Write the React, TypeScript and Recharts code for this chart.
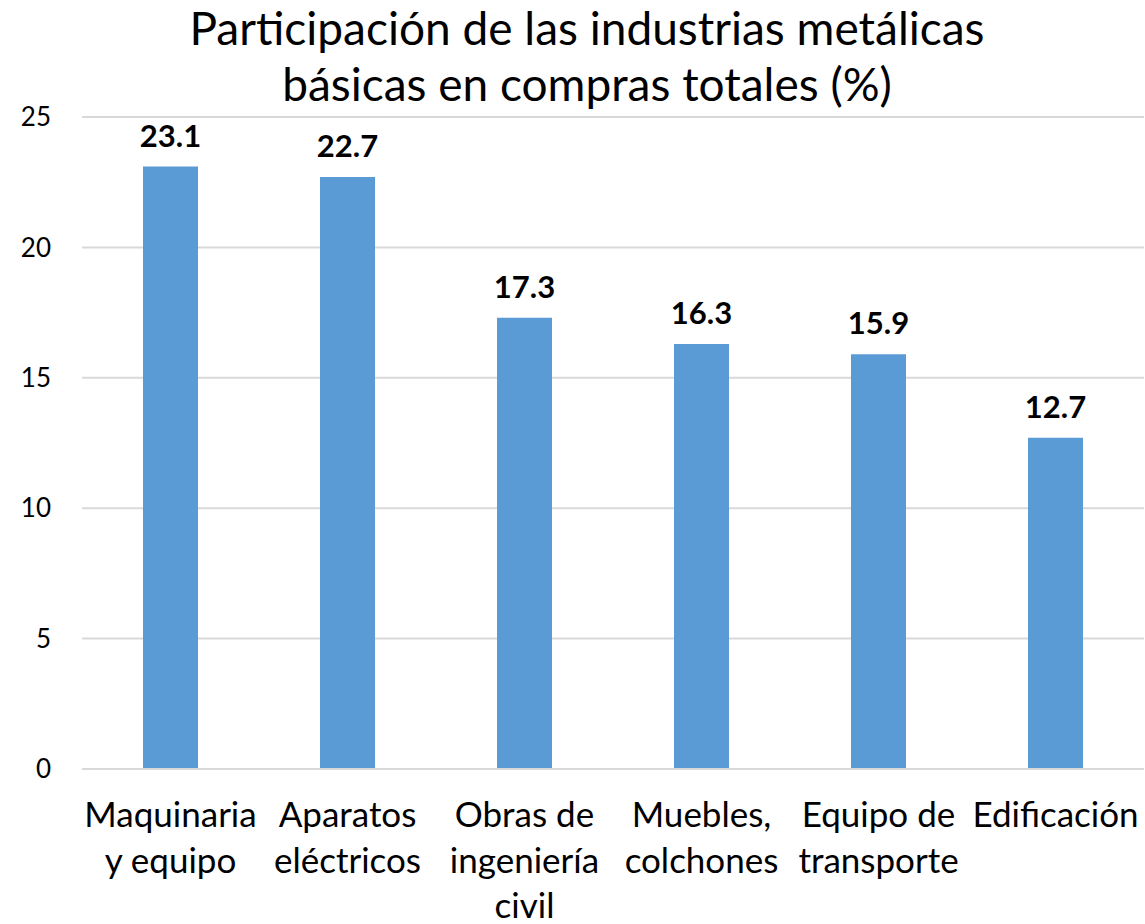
import { BarChart, Bar, XAxis, YAxis, CartesianGrid, LabelList } from "recharts";

const categories = [
  "Maquinaria\ny equipo",
  "Aparatos\neléctricos",
  "Obras de\ningeniería\ncivil",
  "Muebles,\ncolchones",
  "Equipo de\ntransporte",
  "Edificación",
];
const shares = [23.1, 22.7, 17.3, 16.3, 15.9, 12.7];
const yTicks = [0, 5, 10, 15, 20, 25];
const titleLines = [
  "Participación de las industrias metálicas",
  "básicas en compras totales (%)",
];

const data = categories.map((name, i) => ({ name, value: shares[i] }));

const FONT = "Lato, 'Open Sans', sans-serif";

const CategoryTick = (props: any) => {
  const { x, y, payload } = props;
  const lines = String(payload.value).split("\n");
  return (
    <g transform={`translate(${x},${y})`}>
      {lines.map((line, i) => (
        <text
          key={i}
          x={0}
          y={0}
          dy={50 + i * 45.5}
          textAnchor="middle"
          fill="#000"
          fontSize={35}
          fontFamily={FONT}
        >
          {line}
        </text>
      ))}
    </g>
  );
};

const App = () => {
  return (
    <div style={{ position: "absolute", left: 0, top: 0, background: "#fff" }}>
      <BarChart
        width={1145}
        height={924}
        data={data}
        margin={{ top: 117, right: 1, bottom: 0, left: 0 }}
      >
        <text x={587} y={45} textAnchor="middle" fontSize={46} fontFamily={FONT} fill="#000">
          {titleLines[0]}
        </text>
        <text x={587} y={101} textAnchor="middle" fontSize={46} fontFamily={FONT} fill="#000">
          {titleLines[1]}
        </text>
        <CartesianGrid vertical={false} stroke="#d9d9d9" strokeWidth={2} />
        <XAxis
          dataKey="name"
          axisLine={{ stroke: "#d9d9d9", strokeWidth: 2 }}
          tickLine={false}
          interval={0}
          tick={<CategoryTick />}
          height={155}
        />
        <YAxis
          domain={[0, 25]}
          ticks={yTicks}
          width={82}
          axisLine={false}
          tickLine={false}
          tickMargin={25}
          tick={{ fill: "#000", fontSize: 26, fontFamily: FONT }}
        />
        <Bar dataKey="value" fill="#5b9bd5" barSize={55} isAnimationActive={false}>
          <LabelList
            dataKey="value"
            position="top"
            offset={20}
            fill="#000"
            fontSize={31}
            fontWeight="bold"
            fontFamily={FONT}
            formatter={(v: any) => Number(v).toFixed(1)}
          />
        </Bar>
      </BarChart>
    </div>
  );
};

export default App;
